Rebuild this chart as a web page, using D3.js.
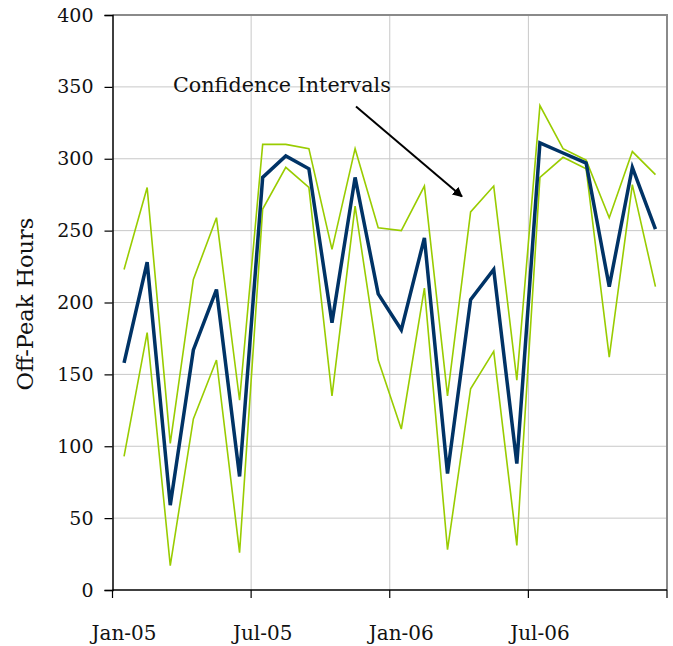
<!DOCTYPE html>
<html>
<head>
<meta charset="utf-8">
<script src="https://cdn.jsdelivr.net/npm/d3@7"></script>
<style>
  html, body { margin: 0; padding: 0; background: #fff; }
  svg { display: block; }
  text { font-family: "DejaVu Serif", "Liberation Serif", serif; fill: #111; }
</style>
</head>
<body>
<svg id="chart" width="673" height="646"></svg>
<script>
// Monthly off-peak hours, Jan-05 .. Dec-06
const months = [
  "Jan-05","Feb-05","Mar-05","Apr-05","May-05","Jun-05",
  "Jul-05","Aug-05","Sep-05","Oct-05","Nov-05","Dec-05",
  "Jan-06","Feb-06","Mar-06","Apr-06","May-06","Jun-06",
  "Jul-06","Aug-06","Sep-06","Oct-06","Nov-06","Dec-06"
];
const estimate = [
  158, 228, 59, 167, 209, 79,
  287, 302, 293, 186, 287, 206,
  181, 245, 81, 202, 223, 88,
  311, 304, 297, 211, 294, 251
];
const upperCI = [
  223, 280, 102, 216, 259, 132,
  310, 310, 307, 237, 307, 252,
  250, 281, 135, 263, 281, 146,
  337, 307, 299, 259, 305, 289
];
const lowerCI = [
  93, 179, 17, 119, 160, 26,
  265, 294, 280, 135, 267, 160,
  112, 210, 28, 140, 166, 31,
  287, 301, 293, 162, 282, 211
];
const yTicks = [0, 50, 100, 150, 200, 250, 300, 350, 400];
const xTickLabels = ["Jan-05", "Jul-05", "Jan-06", "Jul-06"];

const svg = d3.select("#chart");
const plotL = 112.5, plotR = 667, plotT = 15, plotB = 590;

const x = d3.scaleBand().domain(months).range([plotL, plotR]).paddingInner(0).paddingOuter(0);
const y = d3.scaleLinear().domain([0, 400]).range([plotB, plotT]);
const cx = m => x(m) + x.bandwidth() / 2;

// horizontal gridlines
svg.append("g").selectAll("line").data(yTicks.filter(v => v > 0 && v < 400)).join("line")
  .attr("x1", plotL).attr("x2", plotR)
  .attr("y1", d => y(d)).attr("y2", d => y(d))
  .attr("stroke", "#c8c8c8").attr("stroke-width", 1);

// vertical gridlines at half-year boundaries
const boundaries = [6, 12, 18].map(i => x(months[i]));
svg.append("g").selectAll("line").data(boundaries).join("line")
  .attr("x1", d => d).attr("x2", d => d)
  .attr("y1", plotT).attr("y2", plotB)
  .attr("stroke", "#c8c8c8").attr("stroke-width", 1);

// top and right frame
svg.append("path")
  .attr("d", `M${plotL},${plotT}H${plotR}V${plotB}`)
  .attr("fill", "none").attr("stroke", "#8a8a8a").attr("stroke-width", 2);

// y axis
const yAxis = svg.append("g").attr("transform", `translate(${plotL},0)`)
  .call(d3.axisLeft(y).tickValues(yTicks).tickSize(8).tickPadding(11));
yAxis.select(".domain").attr("stroke", "#000").attr("stroke-width", 1.5);
yAxis.selectAll(".tick line").attr("stroke", "#000").attr("stroke-width", 1.2);
yAxis.selectAll(".tick text").style("font-family", "DejaVu Serif").style("font-size", "19px").attr("fill", "#111");

// x axis: ticks at half-year boundaries, labels centred on the first month of each half
const tickPos = [0, 6, 12, 18].map(i => x(months[i])).concat([plotR]);
const xg = svg.append("g");
xg.append("line").attr("x1", plotL).attr("x2", plotR).attr("y1", plotB).attr("y2", plotB)
  .attr("stroke", "#000").attr("stroke-width", 1.5);
xg.selectAll("line.tk").data(tickPos).join("line").attr("class", "tk")
  .attr("x1", d => d).attr("x2", d => d).attr("y1", plotB).attr("y2", plotB + 8)
  .attr("stroke", "#000").attr("stroke-width", 1.2);
xg.selectAll("text").data(xTickLabels).join("text")
  .attr("x", d => cx(d)).attr("y", 640)
  .attr("text-anchor", "middle")
  .style("font-size", "20px")
  .text(d => d);

// y axis title
svg.append("text")
  .attr("transform", "translate(33,304) rotate(-90)")
  .attr("text-anchor", "middle")
  .style("font-size", "22.5px")
  .text("Off-Peak Hours");

const line = d3.line().x((d, i) => cx(months[i])).y(d => y(d));

// confidence bounds
[upperCI, lowerCI].forEach(s => {
  svg.append("path").datum(s)
    .attr("d", line)
    .attr("fill", "none").attr("stroke", "#99cc00").attr("stroke-width", 1.6)
    .attr("stroke-linejoin", "miter");
});

// central estimate
svg.append("path").datum(estimate)
  .attr("d", line)
  .attr("fill", "none").attr("stroke", "#003366").attr("stroke-width", 3.5)
  .attr("stroke-linejoin", "miter");

// annotation
svg.append("defs").append("marker")
  .attr("id", "arrow").attr("viewBox", "0 0 10 10")
  .attr("refX", 9).attr("refY", 5)
  .attr("markerWidth", 5).attr("markerHeight", 5)
  .attr("orient", "auto")
  .append("path").attr("d", "M0,0L10,5L0,10z").attr("fill", "#000");

svg.append("line")
  .attr("x1", 356).attr("y1", 106.5).attr("x2", 462).attr("y2", 196.5)
  .attr("stroke", "#000").attr("stroke-width", 2)
  .attr("marker-end", "url(#arrow)");

svg.append("text")
  .attr("x", 173).attr("y", 92)
  .style("font-size", "20.7px")
  .text("Confidence Intervals");
</script>
</body>
</html>
